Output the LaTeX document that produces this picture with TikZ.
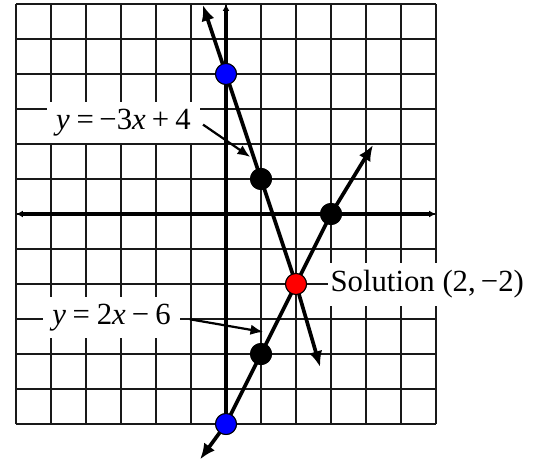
\documentclass[tikz,border=0pt]{standalone}
\usepackage{fontspec}
\setmainfont{Liberation Serif}
\usetikzlibrary{arrows.meta}

\begin{document}
\begin{tikzpicture}[>=Latex,
  gridline/.style={line width=1.6pt,black!90},
  axisline/.style={line width=3pt},
  graphline/.style={line width=3pt,{Latex[length=4.5mm,width=3.8mm]}-{Latex[length=4.5mm,width=3.8mm]}},
  dot/.style={circle,draw=black,line width=0.8pt,minimum size=0.6cm,inner sep=0pt},
  labelbox/.style={fill=white,inner sep=2pt,font=\fontsize{25}{29}\selectfont},
  pointer/.style={line width=1.8pt,-{Latex[length=3.6mm,width=3mm]}}]
\useasboundingbox (-6.457,-7.057) rectangle (8.771,6.114);
% grid and axes
\draw[gridline] (-6,-6) grid (6,6);
\draw[axisline,{Latex[length=2mm,width=2mm]}-{Latex[length=2mm,width=2mm]}] (-6,0) -- (6,0);
\draw[axisline,-{Latex[length=2mm,width=2mm]}] (0,-6) -- (0,6);
% labels
\node[labelbox,minimum width=4.37cm,minimum height=1.17cm] (eq1) at (-2.93,2.61) {\textit{y}\hspace{0.22em}=\hspace{0.18em}−3\textit{x}\hspace{0.2em}+\hspace{0.2em}4};
\node[labelbox,minimum width=3.91cm,minimum height=1.17cm] (eq2) at (-3.27,-2.96) {\textit{y}\hspace{0.22em}=\hspace{0.22em}2\textit{x}\hspace{0.2em}−\hspace{0.2em}6};
\node[labelbox,anchor=west,minimum height=1.23cm] (soltext) at (2.91,-2.01) {Solution (2,\,−2)};
% points
\node[dot,fill=blue] (p04) at (0,4) {};
\node[dot,fill=black] (p11) at (1,1) {};
\node[dot,fill=red] (sol) at (2,-2) {};
\node[dot,fill=black] (p30) at (3,0) {};
\node[dot,fill=black] (p14) at (1,-4) {};
\node[dot,fill=blue] (p06) at (0,-6) {};
% line ends
\coordinate (top1) at (-0.66,5.97);
\coordinate (bot1) at (2.69,-4.37);
\coordinate (top2) at (4.2,1.97);
\coordinate (bot2) at (-0.74,-7.01);
\coordinate (e1) at (0.69,1.63);
\coordinate (e2) at (1.06,-3.37);
% lines
\draw[graphline] (top1) -- (p04.center) -- (sol.center) -- (bot1);
\draw[graphline] (bot2) -- (p06.center) -- (p30.center) -- (top2);
\draw[pointer,shorten <=1mm] (eq1.east) -- (e1);
\draw[pointer,shorten <=2.8mm] (eq2.east) -- (e2);
% dots on top
\node[dot,fill=blue] at (p04) {};
\node[dot,fill=black] at (p11) {};
\node[dot,fill=red] at (sol) {};
\node[dot,fill=black] at (p30) {};
\node[dot,fill=black] at (p14) {};
\node[dot,fill=blue] at (p06) {};
\end{tikzpicture}
\end{document}
